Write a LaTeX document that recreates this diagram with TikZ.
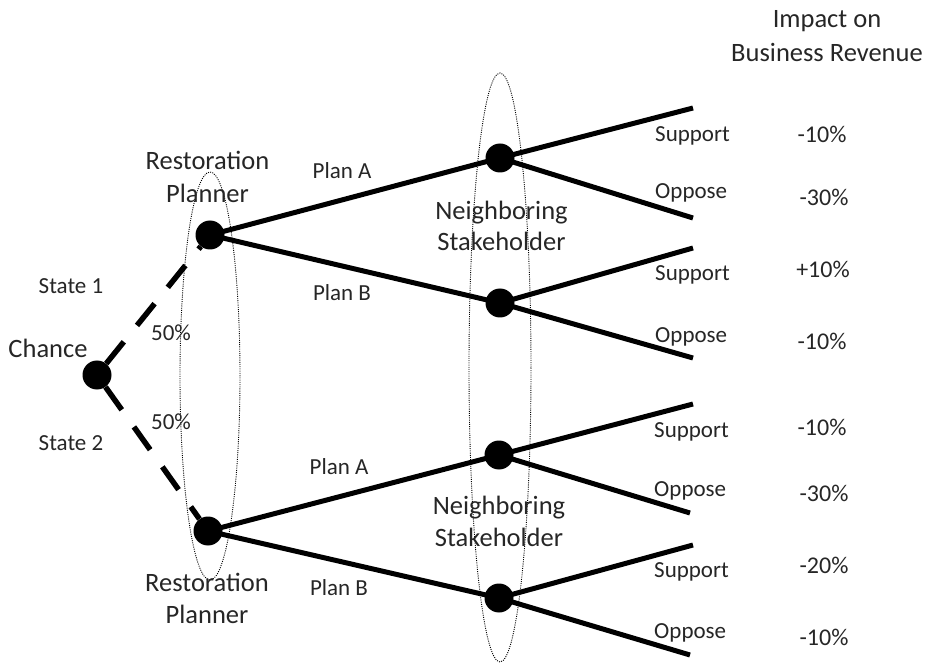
\documentclass[tikz,border=0pt]{standalone}
\usepackage{fontspec}
\setmainfont{Carlito}
\begin{document}
\begin{tikzpicture}[x=1pt,y=-1pt,
  dot/.style={circle,fill=black,draw=none,minimum size=29pt,inner sep=0pt},
  branch/.style={line width=5pt},
  dbranch/.style={line width=5.5pt,dash pattern=on 28pt off 21pt},
  grp/.style={line width=0.9pt,dash pattern=on 1pt off 1.2pt},
  lbl/.style={font=\fontsize{23}{28}\selectfont,inner sep=0pt,anchor=base,text=black!85},
  big/.style={font=\fontsize{26.5}{32}\selectfont,inner sep=0pt,anchor=base,text=black!85},
  pct/.style={font=\fontsize{24}{28}\selectfont,inner sep=0pt,anchor=base,text=black!85},
  leaf/.style={font=\fontsize{23}{28}\selectfont,inner sep=0pt,anchor=base west,text=black!85}]
\useasboundingbox (0,0) rectangle (930,663);
% groups
\draw[grp] (210,376) ellipse [x radius=30pt, y radius=204pt];
\draw[grp] (500,367.5) ellipse [x radius=31pt, y radius=294.5pt];
% nodes
\node[dot] (ch) at (97,375) {};
\node[dot] (rp1) at (210,235) {};
\node[dot] (rp2) at (208,531) {};
\node[dot] (n1) at (500,158) {};
\node[dot] (n2) at (500,303) {};
\node[dot] (n3) at (499,455) {};
\node[dot] (n4) at (499,598) {};
\coordinate (l1) at (693,108);
\coordinate (l2) at (693,218);
\coordinate (l3) at (693,248);
\coordinate (l4) at (693,358);
\coordinate (l5) at (693,404);
\coordinate (l6) at (690,513);
\coordinate (l7) at (693,545);
\coordinate (l8) at (690,655);
% edges
\draw[dbranch] (ch) -- (rp1);
\draw[dbranch] (ch) -- (rp2);
\draw[branch] (rp1.center) -- (n1.center);
\draw[branch] (rp1.center) -- (n2.center);
\draw[branch] (rp2.center) -- (n3.center);
\draw[branch] (rp2.center) -- (n4.center);
\draw[branch] (n1.center) -- (l1);
\draw[branch] (n1.center) -- (l2);
\draw[branch] (n2.center) -- (l3);
\draw[branch] (n2.center) -- (l4);
\draw[branch] (n3.center) -- (l5);
\draw[branch] (n3.center) -- (l6);
\draw[branch] (n4.center) -- (l7);
\draw[branch] (n4.center) -- (l8);
% labels
\node[big] (h1) at (827,28) {Impact on};
\node[big] (h2) at (827,62) {Business Revenue};
\node[big] (r1a) at (207.5,170) {Restoration};
\node[big] (r1b) at (207.5,203) {Planner};
\node[big] (r2a) at (207,591) {Restoration};
\node[big] (r2b) at (207,623) {Planner};
\node[big] (k1a) at (501.5,220) {Neighboring};
\node[big] (k1b) at (501.5,251) {Stakeholder};
\node[big] (k2a) at (499,514) {Neighboring};
\node[big] (k2b) at (499,546) {Stakeholder};
\node[big] (t5) at (48,357) {Chance};
\node[lbl] (s1) at (71,294) {State 1};
\node[lbl] (s2) at (71,450) {State 2};
\node[lbl] (p1) at (171,341) {50\%};
\node[lbl] (p2) at (171,429) {50\%};
\node[lbl] (a1) at (342,179) {Plan A};
\node[lbl] (b1) at (342,301) {Plan B};
\node[lbl] (a2) at (339,474) {Plan A};
\node[lbl] (b2) at (339,595) {Plan B};
\node[leaf] (o1) at (655,142) {Support};
\node[leaf] (o2) at (655,199) {Oppose};
\node[leaf] (o3) at (655,281) {Support};
\node[leaf] (o4) at (655,342) {Oppose};
\node[leaf] (o5) at (654,437) {Support};
\node[leaf] (o6) at (654,496) {Oppose};
\node[leaf] (o7) at (654,577) {Support};
\node[leaf] (o8) at (654,638) {Oppose};
\node[pct] (v1) at (822,143) {-10\%};
\node[pct] (v2) at (824,206) {-30\%};
\node[pct] (v3) at (823,278) {+10\%};
\node[pct] (v4) at (822,350) {-10\%};
\node[pct] (v5) at (822,435) {-10\%};
\node[pct] (v6) at (824,501) {-30\%};
\node[pct] (v7) at (824,573) {-20\%};
\node[pct] (v8) at (824,645) {-10\%};
\end{tikzpicture}
\end{document}
